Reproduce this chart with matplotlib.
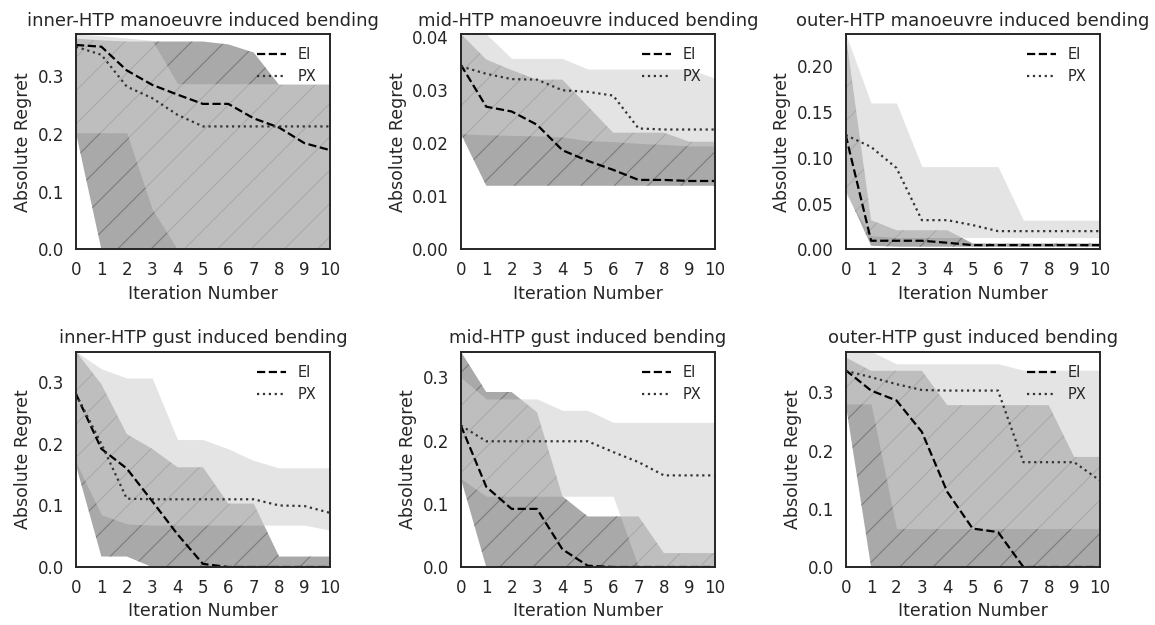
import matplotlib
matplotlib.use("Agg")
import matplotlib.pyplot as plt
from matplotlib.ticker import MultipleLocator
import seaborn as sns
import numpy as np

sns.set_style("white")
plt.rcParams["font.family"] = ["DejaVu Sans"]
plt.rcParams["hatch.linewidth"] = 0.8

iterations = np.arange(11)

titles = [
    "inner-HTP manoeuvre induced bending",
    "mid-HTP manoeuvre induced bending",
    "outer-HTP manoeuvre induced bending",
    "inner-HTP gust induced bending",
    "mid-HTP gust induced bending",
    "outer-HTP gust induced bending",
]

# mean absolute regret per iteration
ei_mean = [
    [0.354, 0.351, 0.310, 0.285, 0.268, 0.252, 0.252, 0.227, 0.211, 0.184, 0.172],
    [0.0348, 0.0269, 0.0260, 0.0235, 0.0187, 0.0167, 0.0150, 0.0131, 0.0131, 0.0129, 0.0129],
    [0.125, 0.0095, 0.0095, 0.0095, 0.0073, 0.0047, 0.0047, 0.0047, 0.0047, 0.0047, 0.0047],
    [0.281, 0.192, 0.160, 0.107, 0.053, 0.005, 0.0, 0.0, 0.0, 0.0, 0.0],
    [0.224, 0.127, 0.092, 0.092, 0.028, 0.002, 0.0, 0.0, 0.0, 0.0, 0.0],
    [0.338, 0.303, 0.286, 0.232, 0.129, 0.066, 0.060, 0.0, 0.0, 0.0, 0.0],
]
px_mean = [
    [0.351, 0.337, 0.282, 0.262, 0.233, 0.213, 0.213, 0.213, 0.213, 0.213, 0.213],
    [0.0345, 0.0331, 0.0321, 0.0320, 0.0300, 0.0297, 0.0290, 0.0228, 0.0226, 0.0226, 0.0226],
    [0.125, 0.112, 0.089, 0.032, 0.032, 0.0266, 0.020, 0.020, 0.020, 0.020, 0.020],
    [0.281, 0.200, 0.111, 0.110, 0.110, 0.110, 0.110, 0.110, 0.100, 0.099, 0.088],
    [0.224, 0.199, 0.199, 0.199, 0.199, 0.199, 0.182, 0.166, 0.145, 0.145, 0.145],
    [0.337, 0.326, 0.314, 0.304, 0.303, 0.303, 0.303, 0.180, 0.180, 0.180, 0.149],
]

# min / max range across runs
ei_low = [
    [0.202, 0.0, 0.0, 0.0, 0.0, 0.0, 0.0, 0.0, 0.0, 0.0, 0.0],
    [0.0218, 0.012, 0.012, 0.012, 0.012, 0.012, 0.012, 0.012, 0.012, 0.012, 0.012],
    [0.065, 0.004, 0.003, 0.003, 0.003, 0.003, 0.003, 0.003, 0.003, 0.003, 0.003],
    [0.165, 0.017, 0.017, 0.0, 0.0, 0.0, 0.0, 0.0, 0.0, 0.0, 0.0],
    [0.140, 0.0, 0.0, 0.0, 0.0, 0.0, 0.0, 0.0, 0.0, 0.0, 0.0],
    [0.280, 0.0, 0.0, 0.0, 0.0, 0.0, 0.0, 0.0, 0.0, 0.0, 0.0],
]
ei_high = [
    [0.365, 0.362, 0.360, 0.360, 0.360, 0.360, 0.355, 0.341, 0.285, 0.285, 0.285],
    [0.0406, 0.0358, 0.0338, 0.0320, 0.0320, 0.0270, 0.0220, 0.0220, 0.0220, 0.0203, 0.0203],
    [0.2354, 0.032, 0.021, 0.021, 0.021, 0.0066, 0.0066, 0.0066, 0.0066, 0.0066, 0.0066],
    [0.350, 0.297, 0.216, 0.192, 0.162, 0.162, 0.103, 0.103, 0.017, 0.017, 0.017],
    [0.341, 0.277, 0.277, 0.245, 0.112, 0.080, 0.080, 0.080, 0.022, 0.022, 0.022],
    [0.360, 0.337, 0.337, 0.337, 0.278, 0.278, 0.278, 0.278, 0.278, 0.189, 0.189],
]
px_low = [
    [0.202, 0.202, 0.202, 0.070, 0.0, 0.0, 0.0, 0.0, 0.0, 0.0, 0.0],
    [0.0218, 0.0216, 0.0215, 0.0214, 0.0212, 0.0205, 0.0203, 0.0200, 0.0198, 0.0195, 0.0195],
    [0.060, 0.015, 0.013, 0.013, 0.013, 0.013, 0.013, 0.013, 0.013, 0.013, 0.013],
    [0.170, 0.085, 0.070, 0.068, 0.068, 0.068, 0.068, 0.068, 0.068, 0.068, 0.060],
    [0.140, 0.112, 0.112, 0.112, 0.112, 0.112, 0.112, 0.0, 0.0, 0.0, 0.0],
    [0.280, 0.280, 0.066, 0.066, 0.066, 0.066, 0.066, 0.066, 0.066, 0.066, 0.066],
]
px_high = [
    [0.373, 0.370, 0.366, 0.362, 0.287, 0.287, 0.287, 0.287, 0.287, 0.287, 0.287],
    [0.0406, 0.0406, 0.0360, 0.0360, 0.0360, 0.0340, 0.0340, 0.0340, 0.0340, 0.0340, 0.0323],
    [0.2354, 0.160, 0.160, 0.0905, 0.0905, 0.0905, 0.0905, 0.032, 0.032, 0.032, 0.032],
    [0.350, 0.322, 0.307, 0.307, 0.207, 0.207, 0.192, 0.173, 0.161, 0.161, 0.161],
    [0.300, 0.266, 0.266, 0.266, 0.248, 0.248, 0.229, 0.229, 0.229, 0.229, 0.229],
    [0.370, 0.370, 0.349, 0.349, 0.349, 0.349, 0.349, 0.338, 0.338, 0.338, 0.338],
]

y_steps = [0.1, 0.01, 0.05, 0.1, 0.1, 0.1]

fig, axes = plt.subplots(2, 3, figsize=(11.55, 6.25), dpi=100)
fig.subplots_adjust(left=0.0658, right=0.952, bottom=0.0928, top=0.9456,
                    wspace=0.516, hspace=0.474)

for i, ax in enumerate(axes.flat):
    ax.fill_between(iterations, ei_low[i], ei_high[i], facecolor="gray",
                    edgecolor="#666666", hatch="/", linewidth=0, alpha=0.68)
    ax.fill_between(iterations, px_low[i], px_high[i], facecolor="#cfcfcf",
                    linewidth=0, alpha=0.56)
    ax.plot(iterations, ei_mean[i], color="black", linestyle="--",
            linewidth=1.6, label="EI")
    ax.plot(iterations, px_mean[i], color="#333333", linestyle=":",
            linewidth=1.6, label="PX")

    top = max(max(ei_high[i]), max(px_high[i]))
    ax.set_xlim(0, 10)
    ax.set_ylim(0, top)
    ax.xaxis.set_major_locator(MultipleLocator(1))
    ax.yaxis.set_major_locator(MultipleLocator(y_steps[i]))
    ax.tick_params(labelsize=12, pad=5)

    ax.set_title(titles[i], fontsize=13)
    ax.set_xlabel("Iteration Number", fontsize=12.5)
    ax.set_ylabel("Absolute Regret", fontsize=12.5)
    ax.legend(loc="upper right", frameon=False, fontsize=10.5)

    for spine in ax.spines.values():
        spine.set_linewidth(1.4)
        spine.set_color("#262626")

fig.savefig("out.png", dpi=100)
